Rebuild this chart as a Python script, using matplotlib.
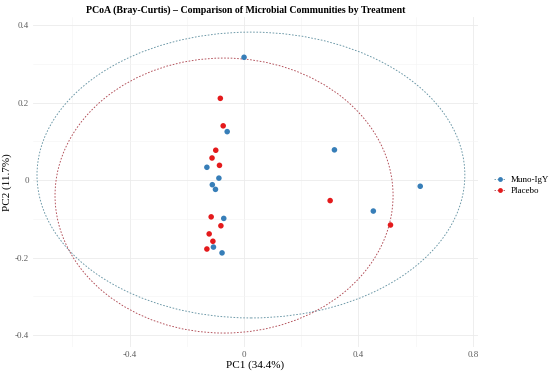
import matplotlib
matplotlib.use("Agg")
import matplotlib.pyplot as plt
from matplotlib.lines import Line2D
from matplotlib.patches import Ellipse

matplotlib.rcParams['font.family'] = ['Liberation Serif', 'DejaVu Serif']

# PCoA coordinates
muno_x = [0.000, -0.059, -0.130, -0.088, -0.111, -0.100, -0.071, -0.107, -0.077, 0.316, 0.452, 0.616]
muno_y = [0.317, 0.125, 0.033, 0.005, -0.012, -0.024, -0.099, -0.173, -0.188, 0.078, -0.080, -0.016]
plac_x = [-0.083, -0.073, -0.099, -0.112, -0.086, -0.115, -0.081, -0.122, -0.109, -0.130, 0.301, 0.512]
plac_y = [0.211, 0.140, 0.077, 0.057, 0.038, -0.095, -0.118, -0.139, -0.158, -0.178, -0.053, -0.116]

# 95% ellipses as drawn in the reference: centre (x, y) and full width / height
ell_center = [(0.024, 0.013), (-0.070, -0.040)]
ell_width = [1.496, 1.182]
ell_height = [0.738, 0.710]

groups = ['Muno-IgY', 'Placebo']
colors = ['#377EB8', '#E41A1C']
ell_colors = ['#6493a3', '#b04852']   # thin dotted lines read greyer in the reference
x_ticks = [-0.4, 0, 0.4, 0.8]
y_ticks = [-0.4, -0.2, 0, 0.2, 0.4]

fig = plt.figure(figsize=(5.5, 3.74), dpi=100)
ax = fig.add_axes([33 / 550, 1 - 347 / 374, 445 / 550, 330 / 374])

series = [(muno_x, muno_y), (plac_x, plac_y)]
for i, (gx, gy) in enumerate(series):
    ax.add_patch(Ellipse(ell_center[i], ell_width[i], ell_height[i], fill=False,
                         edgecolor=ell_colors[i], lw=0.65, ls=(0, (1.8, 1.8)), zorder=2))
    ax.scatter(gx, gy, s=16, color=colors[i], edgecolors='none', zorder=3)

ax.set_xlim(-0.738, 0.818)
ax.set_ylim(-0.431, 0.421)
ax.set_xticks(x_ticks)
ax.set_xticklabels(['-0.4', '0', '0.4', '0.8'])
ax.set_yticks(y_ticks)
ax.set_yticklabels(['-0.4', '-0.2', '0', '0.2', '0.4'])
ax.set_xticks([-0.6, -0.2, 0.2, 0.6], minor=True)
ax.set_yticks([-0.3, -0.1, 0.1, 0.3], minor=True)
ax.grid(True, which='major', color='#ebebeb', lw=0.6)
ax.grid(True, which='minor', color='#f4f4f4', lw=0.4)
ax.set_axisbelow(True)
for s in ax.spines.values():
    s.set_visible(False)
ax.tick_params(which='both', length=0, labelsize=6.5, labelcolor='#5e5e5e', pad=3)

ax.set_xlabel('PC1 (34.4%)', fontsize=8, labelpad=1)
ax.set_ylabel('PC2 (11.7%)', fontsize=8, labelpad=2)
fig.suptitle('PCoA (Bray-Curtis) \u2013 Comparison of Microbial Communities by Treatment',
             fontsize=7.1, fontweight='bold', x=0.447, y=0.985)

handles = [Line2D([0], [0], color=ell_colors[i], lw=0.6, ls=(0, (1.8, 1.8)), marker='o',
                  ms=3.5, markerfacecolor=colors[i], markeredgecolor='none')
           for i in range(len(groups))]
fig.legend(handles, groups, loc='center left', bbox_to_anchor=(0.892, 0.505),
           frameon=False, fontsize=6.5, handlelength=1.2, handletextpad=0.6,
           labelspacing=0.3, borderaxespad=0)

fig.savefig('out.png', dpi=100)
